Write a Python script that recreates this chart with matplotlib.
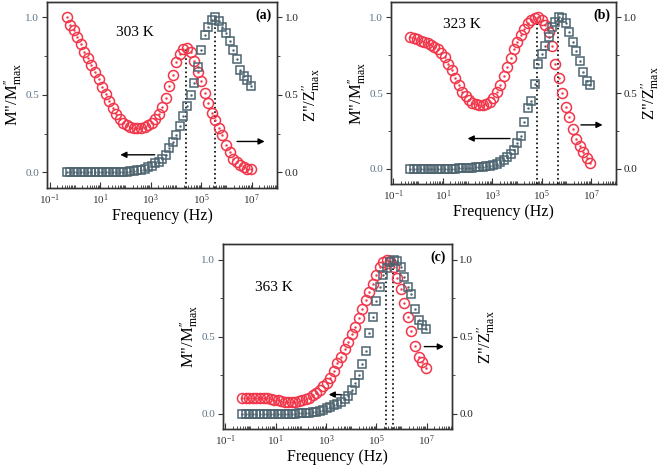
import numpy as np
import matplotlib
matplotlib.use("Agg")
import matplotlib.pyplot as plt
from matplotlib.ticker import FixedLocator, NullFormatter, FixedFormatter

plt.rcParams['font.family'] = ['Liberation Serif', 'DejaVu Serif']
plt.rcParams['mathtext.fontset'] = 'custom'
plt.rcParams['mathtext.rm'] = 'Liberation Serif'
plt.rcParams['mathtext.it'] = 'Liberation Serif:italic'

# frecuencia (log10 Hz), misma malla para los tres paneles
logf = [-0.32, -0.18, -0.04, 0.10, 0.24, 0.38, 0.52, 0.66, 0.80, 0.94,
        1.08, 1.22, 1.36, 1.50, 1.64, 1.78, 1.92, 2.06, 2.20, 2.34,
        2.48, 2.62, 2.76, 2.90, 3.04, 3.18, 3.32, 3.46, 3.60, 3.74,
        3.88, 4.02, 4.16, 4.30, 4.44, 4.58, 4.72, 4.86, 5.00, 5.14,
        5.28, 5.42, 5.56, 5.70, 5.84, 5.98, 6.12, 6.26, 6.40, 6.54,
        6.68, 6.82, 6.96]

# 303 K
m_303 = [1.00, 0.95, 0.92, 0.875, 0.83, 0.78, 0.74, 0.69, 0.645, 0.60,
         0.55, 0.505, 0.46, 0.415, 0.375, 0.345, 0.32, 0.305, 0.295, 0.29,
         0.288, 0.288, 0.295, 0.305, 0.32, 0.345, 0.38, 0.42, 0.48, 0.56,
         0.63, 0.715, 0.765, 0.795, 0.80, 0.78, 0.72, 0.65, 0.59, 0.51,
         0.45, 0.385, 0.34, 0.29, 0.24, 0.18, 0.13, 0.09, 0.065, 0.05,
         0.035, 0.025, 0.02]
z_303 = [0.0, 0.0, 0.0, 0.0, 0.0, 0.0, 0.0, 0.0, 0.0, 0.0,
         0.001, 0.001, 0.002, 0.002, 0.003, 0.003, 0.004, 0.005, 0.007, 0.01,
         0.013, 0.018, 0.025, 0.035, 0.045, 0.058, 0.07, 0.09, 0.115, 0.155,
         0.195, 0.24, 0.30, 0.365, 0.43, 0.50, 0.58, 0.68, 0.79, 0.885,
         0.94, 0.985, 1.00, 0.975, 0.94, 0.90, 0.85, 0.79, 0.73, 0.66,
         0.62, 0.595, 0.56]

# 323 K
m_323 = [0.87, 0.86, 0.855, 0.845, 0.84, 0.83, 0.82, 0.805, 0.79, 0.765,
         0.735, 0.695, 0.65, 0.60, 0.55, 0.51, 0.48, 0.455, 0.435, 0.425,
         0.42, 0.42, 0.425, 0.44, 0.465, 0.505, 0.555, 0.615, 0.675, 0.73,
         0.79, 0.84, 0.88, 0.925, 0.96, 0.985, 0.998, 1.0, 0.985, 0.95,
         0.90, 0.81, 0.69, 0.60, 0.50, 0.41, 0.34, 0.26, 0.20, 0.15,
         0.11, 0.07, 0.04]
z_323 = [0.0, 0.0, 0.0, 0.0, 0.0, 0.0, 0.0, 0.0, 0.0, 0.0,
         0.001, 0.001, 0.002, 0.002, 0.003, 0.004, 0.005, 0.006, 0.008, 0.01,
         0.012, 0.015, 0.018, 0.022, 0.028, 0.035, 0.045, 0.06, 0.075, 0.095,
         0.125, 0.17, 0.22, 0.31, 0.40, 0.45, 0.56, 0.69, 0.76, 0.81,
         0.87, 0.935, 0.97, 1.0, 0.995, 0.96, 0.90, 0.84, 0.78, 0.71,
         0.64, 0.58, 0.55]

# 363 K
m_363 = [0.10, 0.10, 0.10, 0.10, 0.10, 0.10, 0.10, 0.10, 0.097, 0.093,
         0.088, 0.083, 0.08, 0.078, 0.078, 0.08, 0.083, 0.088, 0.095, 0.105,
         0.12, 0.135, 0.155, 0.18, 0.20, 0.235, 0.28, 0.33, 0.37, 0.42,
         0.465, 0.515, 0.565, 0.62, 0.68, 0.735, 0.79, 0.84, 0.90, 0.95,
         0.985, 1.0, 0.99, 0.95, 0.88, 0.81, 0.72, 0.63, 0.535, 0.44,
         0.37, 0.335, 0.30]
z_363 = [0.0, 0.0, 0.0, 0.0, 0.0, 0.0, 0.0, 0.0, 0.0, 0.0,
         0.001, 0.001, 0.001, 0.002, 0.002, 0.002, 0.003, 0.003, 0.005, 0.007,
         0.01, 0.014, 0.02, 0.028, 0.035, 0.045, 0.055, 0.065, 0.08, 0.095,
         0.115, 0.155, 0.20, 0.255, 0.325, 0.41, 0.525, 0.63, 0.73, 0.825,
         0.90, 0.945, 0.985, 1.0, 0.99, 0.95, 0.885, 0.825, 0.775, 0.68,
         0.61, 0.575, 0.55]

temps = ["303 K", "323 K", "363 K"]
letras = ["(a)", "(b)", "(c)"]
# posiciones de las lineas punteadas (log10 f, altura)
picos = [[(4.38, 0.80), (5.56, 1.0)],
         [(4.83, 1.0), (5.67, 1.0)],
         [(5.39, 1.0), (5.65, 1.0)]]
# flechas: (inicio, fin) en (log10 f, y)
flechas = [[((3.27, 0.114), (1.69, 0.114)), ((6.31, 0.20), (7.62, 0.20))],
           [((3.83, 0.20), (1.89, 0.20)), ((6.48, 0.29), (7.58, 0.29))],
           [((3.73, 0.125), (3.00, 0.125)), ((6.80, 0.436), (7.80, 0.436))]]
pos_temp = [(2.36, 0.90), (1.76, 0.95), (0.92, 0.82)]

rojo = '#f2364a'
gris = '#4d6470'
gris_tick = '#5d7386'

fig = plt.figure(figsize=(6.61, 4.70), dpi=100)
rects = [[0.0711, 0.600, 0.348, 0.396],
         [0.5915, 0.6085, 0.340, 0.387],
         [0.337, 0.0866, 0.3464, 0.394]]

datos = [(m_303, z_303), (m_323, z_323), (m_363, z_363)]
f = 10 ** np.array(logf)

for k in range(3):
    ax = fig.add_axes(rects[k])
    ax2 = ax.twinx()
    m, z = datos[k]

    ax2.plot(f, z, 's', ms=6.3, mfc='none', mec=gris, mew=1.1, zorder=3)
    ax2.plot(f, z, '.', ms=1.5, color=gris, zorder=3)
    ax.plot(f, m, 'o', ms=7.2, mfc='none', mec=rojo, mew=1.1, zorder=3)
    ax.plot(f, m, '.', ms=1.5, color=rojo, zorder=3)

    for xp, yp in picos[k]:
        ax.plot([10 ** xp, 10 ** xp], [-0.1, yp], ':', color='k', lw=1.2)

    for (x0, y0), (x1, y1) in flechas[k]:
        ax.annotate('', xy=(10 ** x1, y1), xytext=(10 ** x0, y0),
                    arrowprops=dict(arrowstyle='-|>', color='k', lw=1,
                                    mutation_scale=9))

    tx, ty = pos_temp[k]
    ax.text(10 ** tx, ty, temps[k], fontsize=11, ha='center', va='center')
    ax.text(0.975, 0.93, letras[k], transform=ax.transAxes, fontsize=10,
            fontweight='bold', ha='right', va='center')

    for a in (ax, ax2):
        a.set_xscale('log')
        a.set_xlim(10 ** -1.1, 1e8)
        a.set_ylim(-0.1, 1.1)
        for s in a.spines.values():
            s.set_color('#333333')
            s.set_linewidth(1.0)

    ax.xaxis.set_major_locator(FixedLocator([1e-1, 1e1, 1e3, 1e5, 1e7]))
    ax.xaxis.set_major_formatter(FixedFormatter(
        [r'$10^{-1}$', r'$10^{1}$', r'$10^{3}$', r'$10^{5}$', r'$10^{7}$']))
    menores = []
    for d in range(-1, 8):
        for j in range(1, 10):
            v = j * 10.0 ** d
            if not (j == 1 and d % 2 == 1):
                menores.append(v)
    ax.xaxis.set_minor_locator(FixedLocator(menores))
    ax.xaxis.set_minor_formatter(NullFormatter())
    ax.tick_params(axis='x', which='major', direction='in', length=4,
                   labelsize=8, colors='#333333', pad=3)
    ax.tick_params(axis='x', which='minor', direction='in', length=2,
                   colors='#333333')

    ax.set_yticks([0.0, 0.5, 1.0])
    ax.set_yticks([0.25, 0.75], minor=True)
    ax.tick_params(axis='y', which='major', direction='out', length=3.5,
                   labelsize=8, colors='#333333', labelcolor=gris_tick, pad=2)
    ax.tick_params(axis='y', which='minor', direction='out', length=2,
                   colors='#333333')
    ax2.set_yticks([0.0, 0.5, 1.0])
    ax2.set_yticks([0.25, 0.75], minor=True)
    ax2.tick_params(axis='y', which='major', direction='out', length=3.5,
                    labelsize=8, colors='#333333', labelcolor='#222222', pad=2)
    ax2.tick_params(axis='y', which='minor', direction='out', length=2,
                    colors='#333333')

    ax.set_xlabel('Frequency (Hz)', fontsize=11.5, labelpad=1)
    ax.set_ylabel(r'M"/M$^{\prime\prime}_{\mathrm{max}}$',
                  fontsize=12, labelpad=1)
    ax2.set_ylabel(r'Z"/Z$^{\prime\prime}_{\mathrm{max}}$',
                   fontsize=12, labelpad=1, rotation=90)

fig.savefig('out.png', dpi=100)
